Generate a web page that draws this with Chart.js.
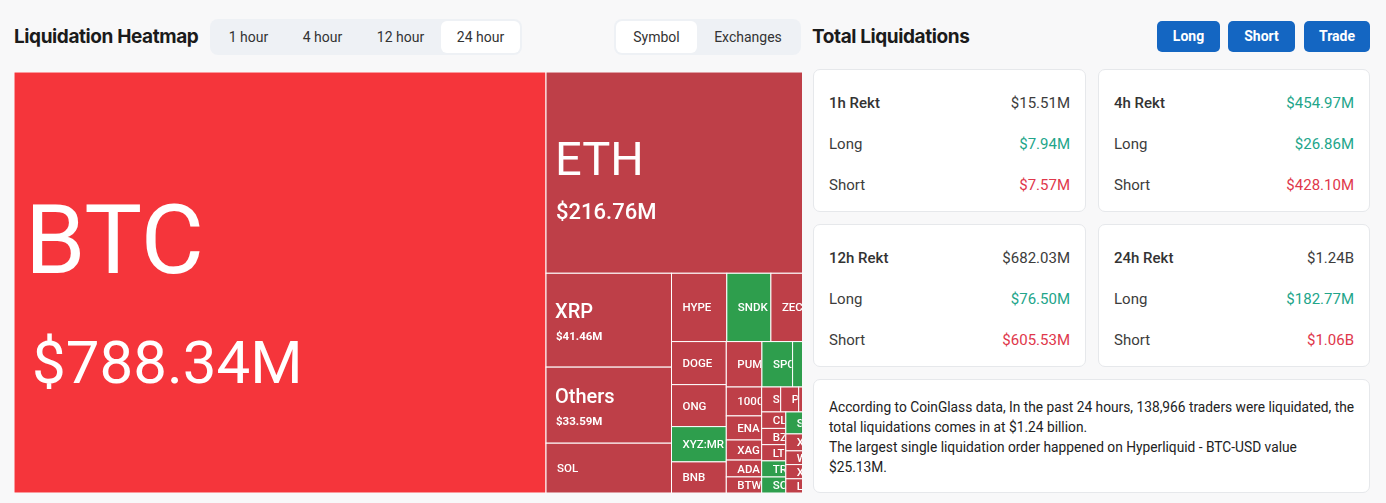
<!DOCTYPE html>
<html>
<head>
<meta charset="utf-8">
<title>Liquidation Heatmap</title>
<script src="https://cdn.jsdelivr.net/npm/chart.js@4.4.1/dist/chart.umd.min.js"></script>
<style>
    body {
        margin: 0;
        width: 1386px;
        height: 503px;
        position: relative;
        overflow: hidden;
        background: #f8f8f9;
        font-family: Roboto, 'Noto Sans', sans-serif;
        color: #333;
    }
    .title {
        position: absolute;
        top: 24px;
        font: 700 19px Inter, sans-serif;
        letter-spacing: -0.4px;
        color: #1b1b1b;
        line-height: 26px;
    }
    .tabs {
        position: absolute;
        top: 19px;
        height: 36px;
        background: #eef1f5;
        border-radius: 8px;
    }
    .tab {
        position: absolute;
        top: 2px;
        height: 32px;
        line-height: 32px;
        text-align: center;
        font-size: 14px;
        color: #333;
        border-radius: 6px;
    }
    .tab.on { background: #fff; }
    .btn {
        position: absolute;
        top: 21px;
        height: 31px;
        line-height: 31px;
        background: #1466c2;
        color: #fff;
        font-weight: 700;
        font-size: 14px;
        text-align: center;
        border-radius: 5px;
    }
    .mapwrap {
        position: absolute;
        left: 14px;
        top: 72px;
        width: 788px;
        height: 421px;
        overflow: hidden;
    }
    .mapbox {
        position: relative;
        width: 838px;
        height: 421px;
    }
    .card {
        position: absolute;
        box-sizing: border-box;
        background: #fff;
        border: 1px solid #e6e8eb;
        border-radius: 7px;
        padding: 21px 15px 0 15px;
    }
    .row {
        display: flex;
        justify-content: space-between;
        height: 41px;
        line-height: 24px;
        font-size: 15px;
        color: #3c3c3c;
    }
    .row.head span:first-child { font-weight: 500; color: #333; }
    .up { color: #22a58a; }
    .down { color: #e0374b; }
    .note {
        position: absolute;
        left: 813px;
        top: 379px;
        width: 557px;
        height: 114px;
        box-sizing: border-box;
        background: #fff;
        border: 1px solid #e6e8eb;
        border-radius: 7px;
        padding: 17px 15px 0 15px;
        font-size: 13.75px;
        line-height: 20px;
        color: #222;
        white-space: nowrap;
    }
</style>
</head>
<body>

<div class="title" style="left:14px">Liquidation Heatmap</div>
<div class="tabs" style="left:210px; width:312px">
    <div class="tab" style="left:2px; width:73px">1 hour</div>
    <div class="tab" style="left:75px; width:75px">4 hour</div>
    <div class="tab" style="left:150px; width:81px">12 hour</div>
    <div class="tab on" style="left:231px; width:79px">24 hour</div>
</div>
<div class="tabs" style="left:614px; width:187px">
    <div class="tab on" style="left:2px; width:81px">Symbol</div>
    <div class="tab" style="left:83px; width:102px">Exchanges</div>
</div>

<div class="mapwrap"><div class="mapbox"><canvas id="heatmap"></canvas></div></div>

<div class="title" style="left:812px">Total Liquidations</div>
<div class="btn" style="left:1157px; width:63px">Long</div>
<div class="btn" style="left:1228px; width:67px">Short</div>
<div class="btn" style="left:1304px; width:66px">Trade</div>

<div id="cards"></div>

<div class="note">
    According to CoinGlass data, In the past 24 hours, 138,966 traders were liquidated, the<br>
    total liquidations comes in at $1.24 billion.<br>
    The largest single liquidation order happened on Hyperliquid - BTC-USD value<br>
    $25.13M.
</div>

<script>
// ========================================
// DATA
// ========================================

// treemap cells in drawing order, values in $M (unnamed ones sit past the clipped edge)
const symbols = ['BTC', 'ETH', 'XRP', 'Others', 'SOL',
    'HYPE', 'SNDK', 'ZEC', '',
    'DOGE', 'ONG', 'XYZ:MR', 'BNB',
    'PUMP', 'SPC', '', '',
    '1000', 'ENA', 'XAG', 'ADA', 'BTW',
    'S', 'P', '', '', '',
    'CL', 'BZ', 'LT', 'TR', 'SO',
    'S', '', '', '',
    'X', 'W', 'X', 'L', ''];
const values = [788.34, 216.76, 41.46, 33.59, 22.0,
    13.3, 10.6, 9.9, 9.6,
    8.3, 8.1, 6.8, 6.0,
    5.7, 4.9, 4.8, 4.7,
    3.6, 3.0, 2.5, 2.1, 2.0,
    1.67, 1.58, 1.57, 1.56, 1.55,
    1.40, 1.38, 1.38, 1.37, 1.36,
    1.30, 1.29, 1.28, 1.25,
    1.05, 0.85, 0.88, 0.88, 10.1];
// which side got liquidated more: 'hot' = heavy longs, 'long', 'short'
const sides = ['hot', 'long', 'long', 'long', 'long',
    'long', 'short', 'long', 'long',
    'long', 'long', 'short', 'long',
    'long', 'short', 'short', 'long',
    'long', 'long', 'long', 'long', 'long',
    'long', 'long', 'long', 'long', 'long',
    'long', 'long', 'long', 'short', 'short',
    'short', 'long', 'long', 'long',
    'long', 'long', 'long', 'long', 'long'];
// values shown under the big names
const valueLabels = { BTC: '$788.34M', ETH: '$216.76M', XRP: '$41.46M', Others: '$33.59M' };

// summary cards
const periods = ['1h', '4h', '12h', '24h'];
const totals = ['$15.51M', '$454.97M', '$682.03M', '$1.24B'];
const longs = ['$7.94M', '$26.86M', '$76.50M', '$182.77M'];
const shorts = ['$7.57M', '$428.10M', '$605.53M', '$1.06B'];
const totalTone = ['', 'up', '', ''];

// ========================================
// CARDS
// ========================================

const cardBox = document.getElementById('cards');
periods.forEach((p, i) => {
    const card = document.createElement('div');
    card.className = 'card';
    card.style.left = (i % 2 ? 1098 : 813) + 'px';
    card.style.top = (i < 2 ? 69 : 224) + 'px';
    card.style.width = (i % 2 ? 272 : 273) + 'px';
    card.style.height = '143px';
    card.innerHTML =
        `<div class="row head"><span>${p} Rekt</span><span class="${totalTone[i]}">${totals[i]}</span></div>` +
        `<div class="row"><span>Long</span><span class="up">${longs[i]}</span></div>` +
        `<div class="row"><span>Short</span><span class="down">${shorts[i]}</span></div>`;
    cardBox.appendChild(card);
});

// ========================================
// TREEMAP LAYOUT (squarified, golden ratio)
// ========================================

const SQUARE_RATIO = 0.5 * (1 + Math.sqrt(5));

function worst(row, sum, side) {
    let mx = 0, mn = Infinity;
    row.forEach(r => { mx = Math.max(mx, r.a); mn = Math.min(mn, r.a); });
    const f = side * side * SQUARE_RATIO;
    return Math.max(f * mx / (sum * sum), (sum * sum) / (f * mn));
}

// returns cells as fractions (0..1) of the plot, so they can go through the scales
function squarify(vals, W, H) {
    const total = vals.reduce((a, b) => a + b, 0);
    const items = vals.map((v, i) => ({ i, a: v * W * H / total }));
    const out = [];
    let x = 0, y = 0, w = W, h = H, k = 0;
    while (k < items.length) {
        const side = Math.min(w, h);
        let row = [items[k]], sum = items[k].a;
        let best = worst(row, sum, side);
        let j = k + 1;
        while (j < items.length) {
            const next = row.concat(items[j]);
            const s = sum + items[j].a;
            const score = worst(next, s, side);
            if (score > best) break;
            row = next; sum = s; best = score; j++;
        }
        if (j === items.length) sum = w * h; // last row takes what is left
        if (w >= h) {
            const cw = sum / h;
            let yy = y;
            row.forEach(r => {
                const rh = r.a / sum * h;
                out.push({ i: r.i, x0: x / W, x1: (x + cw) / W, y0: yy / H, y1: (yy + rh) / H });
                yy += rh;
            });
            x += cw; w -= cw;
        } else {
            const rh = sum / w;
            let xx = x;
            row.forEach(r => {
                const rw = r.a / sum * w;
                out.push({ i: r.i, x0: xx / W, x1: (xx + rw) / W, y0: y / H, y1: (y + rh) / H });
                xx += rw;
            });
            y += rh; h -= rh;
        }
        k = j;
    }
    return out;
}

// ========================================
// DRAWING
// ========================================

const sideColors = { hot: '#f5353b', long: '#be3f48', short: '#2e9e4d' };

// label tiers by cell size
function labelTier(w, h) {
    const s = Math.sqrt(w * h);
    if (s > 350) return { name: 97, nameW: 400, value: 60, valueW: 400, nameDy: -10, valueDy: 100, padN: 11, padV: 18 };
    if (s > 180) return { name: 47, nameW: 400, value: 22, valueW: 500, nameDy: 2, valueDy: 46, padN: 9, padV: 10 };
    if (s > 90) return { name: 20, nameW: 500, value: 11.5, valueW: 700, nameDy: -2, valueDy: 20, padN: 9, padV: 10 };
    return { name: 11.5, nameW: 500, nameDy: 4, padN: 11 };
}

const treemapPlugin = {
    id: 'treemapCells',
    beforeDatasetsDraw(chart) {
        const { ctx, chartArea: area, scales: { x, y } } = chart;
        const cells = squarify(values, area.width, area.height);

        ctx.save();
        cells.forEach(c => {
            const left = x.getPixelForValue(c.x0);
            const right = x.getPixelForValue(c.x1);
            const top = y.getPixelForValue(c.y0);
            const bottom = y.getPixelForValue(c.y1);
            const w = right - left, h = bottom - top;

            ctx.fillStyle = sideColors[sides[c.i]];
            ctx.fillRect(left, top, w, h);
            ctx.strokeStyle = '#ffffff';
            ctx.lineWidth = 1;
            ctx.strokeRect(left, top, w, h);

            const name = symbols[c.i];
            if (!name) return;
            const t = labelTier(w, h);
            const cy = top + h / 2;

            ctx.save();
            ctx.beginPath();
            ctx.rect(left + 1, top + 1, w - 2, h - 2);
            ctx.clip();
            ctx.fillStyle = '#ffffff';
            ctx.textAlign = 'left';
            ctx.textBaseline = 'alphabetic';
            ctx.font = `${t.nameW} ${t.name}px Roboto, sans-serif`;
            ctx.fillText(name, left + t.padN, cy + t.nameDy);
            if (t.value && valueLabels[name]) {
                ctx.font = `${t.valueW} ${t.value}px Roboto, sans-serif`;
                ctx.fillText(valueLabels[name], left + t.padV, cy + t.valueDy);
            }
            ctx.restore();
        });
        ctx.restore();
    }
};

new Chart(document.getElementById('heatmap'), {
    type: 'scatter',
    data: { datasets: [{ data: [], pointRadius: 0 }] },
    options: {
        responsive: true,
        maintainAspectRatio: false,
        animation: false,
        layout: { padding: 0 },
        plugins: {
            legend: { display: false },
            tooltip: { enabled: false }
        },
        scales: {
            x: { type: 'linear', min: 0, max: 1, display: false },
            y: { type: 'linear', min: 0, max: 1, reverse: true, display: false }
        }
    },
    plugins: [treemapPlugin]
});
</script>
</body>
</html>
